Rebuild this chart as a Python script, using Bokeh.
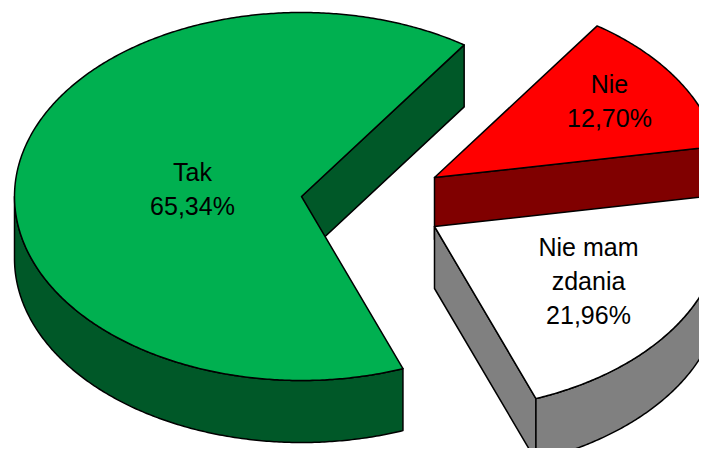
import numpy as np
from bokeh.plotting import figure
from bokeh.models import Range1d
from bokeh.embed import file_html
from bokeh.resources import INLINE
from bokeh.core.properties import value

# ---- data ----
categories = ["Tak", "Nie", "Nie mam\nzdania"]
shares = [65.34, 12.70, 21.96]

# ---- styles ----
top_colors = ["#00B050", "#FF0000", "#FFFFFF"]
side_colors = ["#005828", "#800000", "#808080"]
FONT = "Liberation Sans"
FONT_SIZE = "25px"

# ---- layout (screen pixel coordinates of the reference) ----
centers = [(301, 196), (434, 177), (434, 226)]   # exploded slice apexes
label_pos = [(192, 171), (609, 83), (588, 246)]  # first label line position
RX, RY, DEPTH = 287, 184, 62
FIRST_START = 290.7   # ccw degrees where the first slice begins, slices go clockwise
LINE_PITCH = 34

total = sum(shares)
spans = [s / total * 360.0 for s in shares]


def rim(c, ang_deg, dz=0.0):
    a = np.radians(ang_deg)
    return c[0] + RX * np.cos(a), c[1] - RY * np.sin(a) + dz


def arc(c, lo, hi, dz=0.0, n=None):
    if n is None:
        n = max(int(abs(hi - lo) * 2), 4)
    ang = np.linspace(lo, hi, n)
    x, y = rim(c, ang, dz)
    return list(x), list(y)


layers = []
hi = FIRST_START
for i, span in enumerate(spans):
    lo = hi - span
    c = centers[i]
    side_x, side_y, side_f = [], [], []
    # cut faces
    for ang, is_lo in ((lo, True), (hi, False)):
        cosv = np.cos(np.radians(ang))
        visible = cosv > 0 if is_lo else cosv < 0
        if visible:
            rx, ry = rim(c, ang)
            side_x.append([c[0], rx, rx, c[0]])
            side_y.append([c[1], ry, ry + DEPTH, c[1] + DEPTH])
            side_f.append(side_colors[i])
    # outer rim (front half only)
    for flo, fhi in ((180.0, 360.0), (-180.0, 0.0), (540.0, 720.0)):
        a0, a1 = max(lo, flo), min(hi, fhi)
        if a1 > a0:
            tx, ty = arc(c, a0, a1)
            bx, by = arc(c, a1, a0, DEPTH)
            side_x.append(tx + bx)
            side_y.append(ty + by)
            side_f.append(side_colors[i])
    ax, ay = arc(c, lo, hi)
    layers.append((side_x, side_y, side_f, [c[0]] + ax, [c[1]] + ay, top_colors[i]))
    hi = lo

p = figure(width=699, height=448, x_range=Range1d(0, 699), y_range=Range1d(448, 0),
           output_backend="svg", toolbar_location=None, min_border=0)
p.axis.visible = False
p.grid.visible = False
p.outline_line_color = None
p.background_fill_color = "white"

for side_x, side_y, side_f, tx, ty, tf in layers:
    if side_x:
        p.patches(xs=side_x, ys=side_y, fill_color=side_f, line_color="black",
                  line_width=1.5, line_join="round")
    p.patch(x=tx, y=ty, fill_color=tf, line_color="black", line_width=1.5,
            line_join="round")

lx, ly, lt = [], [], []
for i, (cat, v) in enumerate(zip(categories, shares)):
    lines = cat.split("\n") + [f"{v:.2f}".replace(".", ",") + "%"]
    for j, line in enumerate(lines):
        lx.append(label_pos[i][0])
        ly.append(label_pos[i][1] + j * LINE_PITCH)
        lt.append(line)

p.text(x=lx, y=ly, text=lt, text_font=value(FONT), text_font_size=FONT_SIZE,
       text_align="center", text_baseline="alphabetic", text_color="black")

open("out.html", "w").write(file_html(p, INLINE))
